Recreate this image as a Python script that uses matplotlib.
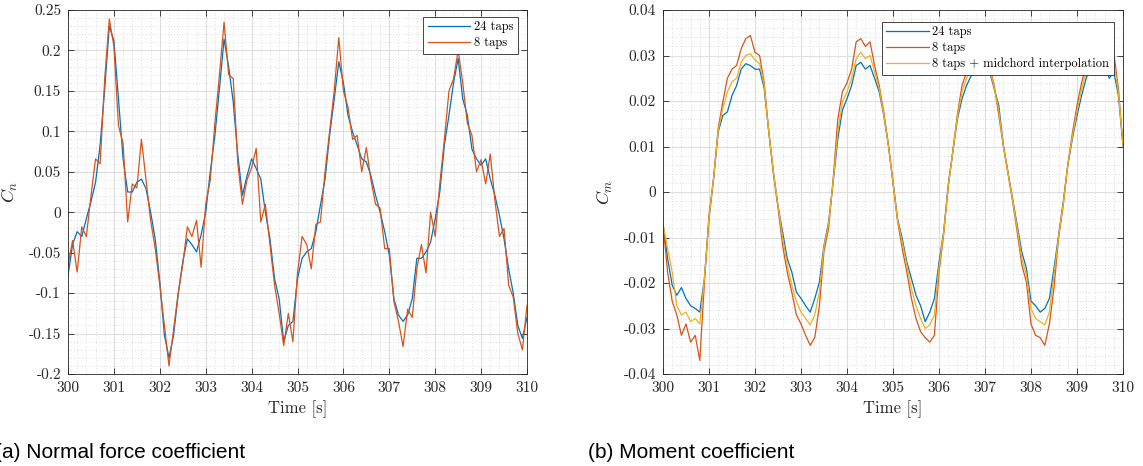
import matplotlib
matplotlib.use("Agg")
import matplotlib.pyplot as plt
import numpy as np
from matplotlib.ticker import MultipleLocator

# time axis, 0.1 s steps
time_s = [300 + i / 10 for i in range(101)]

# normal force coefficient
cn_24_taps = [
    -0.078, -0.040, -0.024, -0.030, -0.008, 0.013, 0.037, 0.083, 0.153, 0.230,
    0.212, 0.140, 0.066, 0.025, 0.025, 0.037, 0.041, 0.029, 0.000, -0.033,
    -0.086, -0.152, -0.180, -0.152, -0.102, -0.061, -0.033, -0.040, -0.049, -0.028,
    0.000, 0.050, 0.095, 0.153, 0.214, 0.180, 0.136, 0.070, 0.021, 0.045,
    0.066, 0.054, 0.041, 0.000, -0.033, -0.082, -0.107, -0.160, -0.140, -0.135,
    -0.082, -0.057, -0.049, -0.045, -0.024, 0.009, 0.041, 0.095, 0.140, 0.186,
    0.160, 0.120, 0.099, 0.083, 0.066, 0.062, 0.045, 0.021, 0.000, -0.024,
    -0.053, -0.107, -0.127, -0.135, -0.127, -0.107, -0.057, -0.057, -0.049, -0.037,
    -0.008, 0.025, 0.083, 0.120, 0.160, 0.190, 0.140, 0.120, 0.078, 0.066,
    0.058, 0.066, 0.041, 0.021, -0.004, -0.033, -0.070, -0.100, -0.140, -0.156,
    -0.130,
]
cn_8_taps = [
    -0.065, -0.035, -0.074, -0.018, -0.030, 0.020, 0.066, 0.060, 0.165, 0.239,
    0.205, 0.107, 0.085, -0.012, 0.035, 0.030, 0.090, 0.040, -0.010, -0.045,
    -0.090, -0.140, -0.190, -0.145, -0.100, -0.065, -0.018, -0.030, -0.010, -0.068,
    0.010, 0.040, 0.110, 0.170, 0.235, 0.170, 0.165, 0.060, 0.010, 0.040,
    0.055, 0.079, -0.012, 0.010, -0.040, -0.090, -0.125, -0.165, -0.125, -0.160,
    -0.075, -0.030, -0.040, -0.070, -0.015, -0.012, 0.050, 0.100, 0.150, 0.216,
    0.150, 0.130, 0.090, 0.095, 0.050, 0.080, 0.040, 0.010, 0.005, -0.045,
    -0.045, -0.110, -0.135, -0.166, -0.120, -0.130, -0.070, -0.040, -0.075, 0.000,
    -0.030, 0.035, 0.090, 0.150, 0.165, 0.200, 0.160, 0.110, 0.095, 0.050,
    0.065, 0.035, 0.072, 0.015, -0.030, -0.020, -0.090, -0.105, -0.150, -0.170,
    -0.115,
]

# moment coefficient
cm_24_taps = [
    -0.0070, -0.0146, -0.0205, -0.0227, -0.0210, -0.0234, -0.0250, -0.0256, -0.0264, -0.0190,
    -0.0060, 0.0030, 0.0132, 0.0168, 0.0176, 0.0212, 0.0234, 0.0270, 0.0282, 0.0278,
    0.0270, 0.0270, 0.0227, 0.0132, 0.0044, -0.0030, -0.0088, -0.0146, -0.0176, -0.0220,
    -0.0234, -0.0250, -0.0264, -0.0234, -0.0198, -0.0117, -0.0066, 0.0022, 0.0117, 0.0180,
    0.0205, 0.0234, 0.0278, 0.0285, 0.0270, 0.0278, 0.0250, 0.0220, 0.0168, 0.0102,
    0.0022, -0.0059, -0.0102, -0.0154, -0.0190, -0.0227, -0.0250, -0.0285, -0.0264, -0.0234,
    -0.0154, -0.0088, 0.0015, 0.0088, 0.0160, 0.0205, 0.0234, 0.0256, 0.0275, 0.0285,
    0.0285, 0.0264, 0.0227, 0.0190, 0.0102, 0.0044, -0.0015, -0.0073, -0.0132, -0.0168,
    -0.0240, -0.0250, -0.0264, -0.0256, -0.0234, -0.0168, -0.0095, -0.0022, 0.0059, 0.0117,
    0.0168, 0.0212, 0.0250, 0.0275, 0.0285, 0.0285, 0.0275, 0.0250, 0.0264, 0.0212,
    0.0102,
]
cm_8_taps = [
    -0.0070, -0.0176, -0.0240, -0.0270, -0.0315, -0.0290, -0.0330, -0.0315, -0.0370, -0.0200,
    -0.0050, 0.0030, 0.0140, 0.0198, 0.0250, 0.0270, 0.0278, 0.0315, 0.0337, 0.0344,
    0.0307, 0.0300, 0.0240, 0.0132, 0.0040, -0.0035, -0.0117, -0.0176, -0.0220, -0.0270,
    -0.0290, -0.0315, -0.0337, -0.0320, -0.0250, -0.0130, -0.0080, 0.0030, 0.0160, 0.0220,
    0.0240, 0.0270, 0.0330, 0.0337, 0.0320, 0.0330, 0.0278, 0.0234, 0.0175, 0.0105,
    0.0020, -0.0065, -0.0124, -0.0176, -0.0234, -0.0278, -0.0307, -0.0320, -0.0330, -0.0315,
    -0.0176, -0.0095, 0.0010, 0.0090, 0.0170, 0.0234, 0.0264, 0.0292, 0.0310, 0.0320,
    0.0315, 0.0275, 0.0234, 0.0168, 0.0100, 0.0040, -0.0020, -0.0088, -0.0160, -0.0198,
    -0.0290, -0.0315, -0.0320, -0.0337, -0.0290, -0.0210, -0.0100, -0.0030, 0.0060, 0.0130,
    0.0190, 0.0240, 0.0278, 0.0300, 0.0310, 0.0310, 0.0300, 0.0290, 0.0305, 0.0227,
    0.0102,
]
cm_8_taps_interp = [
    -0.0070, -0.0124, -0.0176, -0.0250, -0.0270, -0.0264, -0.0285, -0.0278, -0.0290, -0.0190,
    -0.0055, 0.0030, 0.0135, 0.0183, 0.0220, 0.0242, 0.0250, 0.0285, 0.0300, 0.0304,
    0.0290, 0.0282, 0.0234, 0.0132, 0.0044, -0.0030, -0.0100, -0.0160, -0.0205, -0.0240,
    -0.0264, -0.0278, -0.0292, -0.0270, -0.0220, -0.0120, -0.0070, 0.0025, 0.0132, 0.0198,
    0.0220, 0.0250, 0.0293, 0.0307, 0.0293, 0.0300, 0.0264, 0.0227, 0.0170, 0.0102,
    0.0020, -0.0062, -0.0110, -0.0161, -0.0212, -0.0250, -0.0278, -0.0300, -0.0292, -0.0270,
    -0.0165, -0.0090, 0.0012, 0.0088, 0.0165, 0.0220, 0.0250, 0.0272, 0.0290, 0.0300,
    0.0298, 0.0270, 0.0230, 0.0178, 0.0100, 0.0042, -0.0018, -0.0080, -0.0146, -0.0183,
    -0.0256, -0.0278, -0.0285, -0.0292, -0.0264, -0.0183, -0.0098, -0.0026, 0.0060, 0.0122,
    0.0178, 0.0225, 0.0264, 0.0288, 0.0298, 0.0298, 0.0288, 0.0270, 0.0285, 0.0220,
    0.0102,
]

x_ticks = [300, 301, 302, 303, 304, 305, 306, 307, 308, 309, 310]
cn_ticks = [-0.2, -0.15, -0.1, -0.05, 0, 0.05, 0.1, 0.15, 0.2, 0.25]
cn_tick_labels = ["-0.2", "-0.15", "-0.1", "-0.05", "0", "0.05", "0.1", "0.15", "0.2", "0.25"]
cm_ticks = [-0.04, -0.03, -0.02, -0.01, 0, 0.01, 0.02, 0.03, 0.04]
cm_tick_labels = ["-0.04", "-0.03", "-0.02", "-0.01", "0", "0.01", "0.02", "0.03", "0.04"]

colors = ("#0072BD", "#D95319", "#EDB120")
serif = "cmr10"
dark = "#262626"

plt.rcParams["mathtext.fontset"] = "cm"
plt.rcParams["axes.unicode_minus"] = False


def style_axes(ax, yticks, ylabels, ylim, y_minor, ylabel):
    ax.set_xlim(300, 310)
    ax.set_ylim(*ylim)
    ax.set_xticks(x_ticks)
    ax.set_xticklabels([str(v) for v in x_ticks], fontfamily=serif, fontsize=11)
    ax.set_yticks(yticks)
    ax.set_yticklabels(ylabels, fontfamily=serif, fontsize=11)
    ax.xaxis.set_minor_locator(MultipleLocator(0.2))
    ax.yaxis.set_minor_locator(MultipleLocator(y_minor))
    ax.tick_params(which="major", direction="in", length=4, width=0.6, top=True, right=True,
                   colors=dark, pad=5)
    ax.tick_params(which="minor", length=0)
    ax.grid(True, which="major", color="#dedede", linewidth=0.8)
    ax.grid(True, which="minor", color="#c4c4c4", linewidth=0.5, linestyle=(0, (1, 3)))
    ax.set_axisbelow(True)
    for spine in ax.spines.values():
        spine.set_color(dark)
        spine.set_linewidth(0.6)
    ax.set_xlabel("Time [s]", fontfamily=serif, fontsize=12, labelpad=4, color=dark)
    ax.set_ylabel(ylabel, fontsize=13, color=dark)
    ax.yaxis.set_label_coords(-0.105, 0.5)


def add_legend(ax, anchor):
    leg = ax.legend(loc="upper right", bbox_to_anchor=anchor, borderaxespad=0,
                    prop={"family": serif, "size": 9}, fancybox=False, edgecolor=dark,
                    framealpha=1, handlelength=3.4, labelspacing=0.3, borderpad=0.35,
                    handletextpad=0.3)
    leg.get_frame().set_linewidth(0.6)


fig = plt.figure(figsize=(11.43, 4.66), dpi=100)
ax_cn = fig.add_axes([68 / 1143, 92 / 466, 459 / 1143, 364 / 466])
ax_cm = fig.add_axes([663 / 1143, 92 / 466, 460 / 1143, 364 / 466])

ax_cn.plot(time_s, cn_24_taps, color=colors[0], linewidth=0.9, label="24 taps")
ax_cn.plot(time_s, cn_8_taps, color=colors[1], linewidth=0.9, label="8 taps")
style_axes(ax_cn, cn_ticks, cn_tick_labels, (-0.2, 0.25), 0.01, "$C_n$")
add_legend(ax_cn, (0.980, 0.981))

ax_cm.plot(time_s, cm_24_taps, color=colors[0], linewidth=0.9, label="24 taps")
ax_cm.plot(time_s, cm_8_taps, color=colors[1], linewidth=0.9, label="8 taps")
ax_cm.plot(time_s, cm_8_taps_interp, color=colors[2], linewidth=0.9,
           label="8 taps + midchord interpolation")
style_axes(ax_cm, cm_ticks, cm_tick_labels, (-0.04, 0.04), 0.002, "$C_m$")
add_legend(ax_cm, (0.980, 0.968))

# sub-captions, the left one runs off the page edge as in the original
fig.text(-5 / 1143, 1 - 453 / 466, "(a) Normal force coefficient", fontfamily="Liberation Sans",
         fontsize=15, ha="left", va="center")
fig.text(588 / 1143, 1 - 453 / 466, "(b) Moment coefficient", fontfamily="Liberation Sans",
         fontsize=15, ha="left", va="center")

fig.savefig("out.png", dpi=100)
